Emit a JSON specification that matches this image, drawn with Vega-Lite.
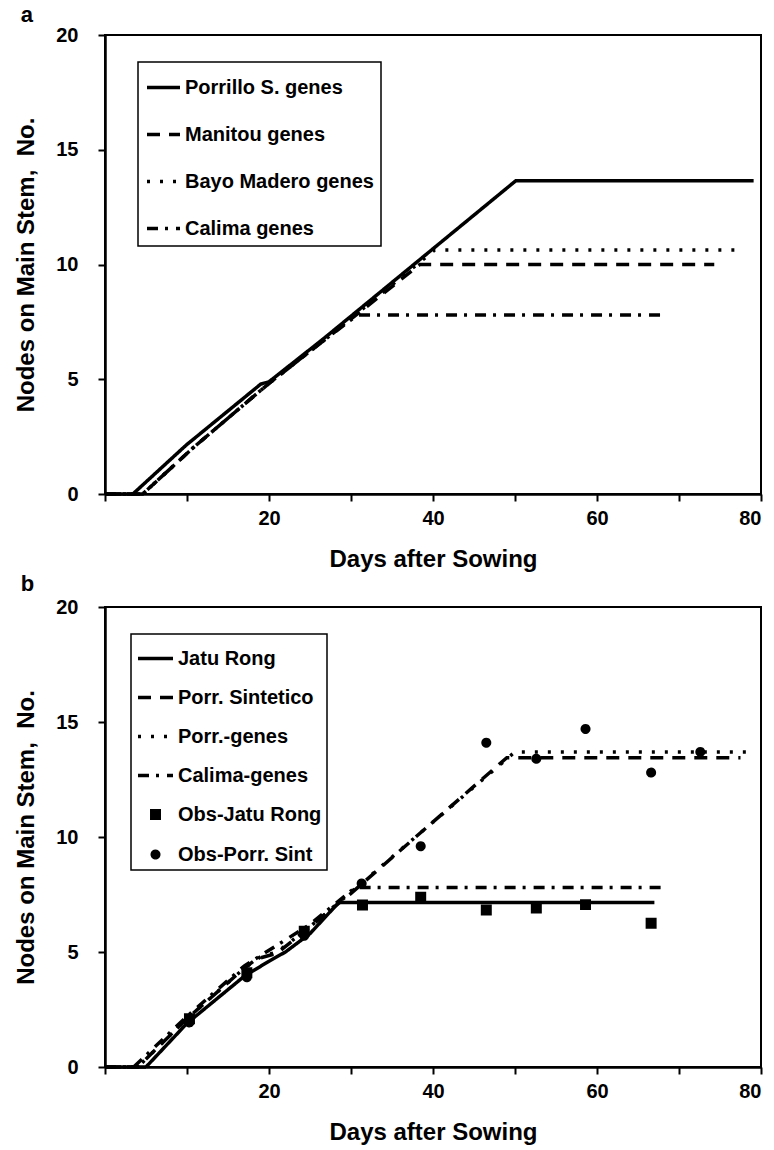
{
  "$schema": "https://vega.github.io/schema/vega-lite/v6.json",
  "background": "white",
  "padding": {"left": 13, "top": 3, "right": 0, "bottom": 0},
  "spacing": 0,
  "resolve": {
    "scale": {"strokeDash": "independent", "shape": "independent"},
    "legend": {"strokeDash": "independent", "shape": "independent"}
  },
  "config": {
    "font": "Liberation Sans",
    "view": {"stroke": "black", "strokeWidth": 2},
    "axis": {
      "grid": false,
      "domainColor": "black", "domainWidth": 2.5,
      "tickColor": "black", "tickWidth": 2, "tickSize": 7,
      "labelFont": "Liberation Sans", "labelFontWeight": "bold", "labelFontSize": 20, "labelColor": "black",
      "titleFont": "Liberation Sans", "titleFontWeight": "bold", "titleFontSize": 24, "titleColor": "black"
    },
    "axisX": {"labelPadding": 7, "titlePadding": 19},
    "axisY": {"labelPadding": 20, "titlePadding": 17},
    "legend": {
      "labelFont": "Liberation Sans", "labelFontWeight": "bold", "labelFontSize": 20, "labelColor": "black", "labelLimit": 400,
      "strokeColor": "black", "symbolStrokeColor": "black", "symbolStrokeWidth": 3.5, "symbolType": "stroke",
      "labelOffset": 3
    },
    "title": {"font": "Liberation Sans", "fontWeight": "bold", "fontSize": 22, "color": "black", "anchor": "start", "frame": "bounds"}
  },
  "datasets": {
    "panelA": [
      {"curve": "Porrillo S. genes", "day": 0, "nodes": 0},
      {"curve": "Porrillo S. genes", "day": 3.4, "nodes": 0},
      {"curve": "Porrillo S. genes", "day": 9.9, "nodes": 2.13},
      {"curve": "Porrillo S. genes", "day": 19.0, "nodes": 4.79},
      {"curve": "Porrillo S. genes", "day": 20.0, "nodes": 4.89},
      {"curve": "Porrillo S. genes", "day": 26.7, "nodes": 6.78},
      {"curve": "Porrillo S. genes", "day": 50.1, "nodes": 13.65},
      {"curve": "Porrillo S. genes", "day": 79.1, "nodes": 13.65},
      {"curve": "Manitou genes", "day": 0, "nodes": 0},
      {"curve": "Manitou genes", "day": 4.6, "nodes": 0},
      {"curve": "Manitou genes", "day": 10.7, "nodes": 2.0},
      {"curve": "Manitou genes", "day": 18.8, "nodes": 4.46},
      {"curve": "Manitou genes", "day": 20.0, "nodes": 4.82},
      {"curve": "Manitou genes", "day": 26.9, "nodes": 6.75},
      {"curve": "Manitou genes", "day": 38.4, "nodes": 10.0},
      {"curve": "Manitou genes", "day": 74.3, "nodes": 10.0},
      {"curve": "Bayo Madero genes", "day": 0, "nodes": 0},
      {"curve": "Bayo Madero genes", "day": 4.6, "nodes": 0},
      {"curve": "Bayo Madero genes", "day": 10.7, "nodes": 2.0},
      {"curve": "Bayo Madero genes", "day": 18.8, "nodes": 4.46},
      {"curve": "Bayo Madero genes", "day": 20.0, "nodes": 4.82},
      {"curve": "Bayo Madero genes", "day": 26.9, "nodes": 6.75},
      {"curve": "Bayo Madero genes", "day": 40.2, "nodes": 10.63},
      {"curve": "Bayo Madero genes", "day": 77.3, "nodes": 10.63},
      {"curve": "Calima genes", "day": 0, "nodes": 0},
      {"curve": "Calima genes", "day": 4.6, "nodes": 0},
      {"curve": "Calima genes", "day": 10.7, "nodes": 2.0},
      {"curve": "Calima genes", "day": 18.8, "nodes": 4.46},
      {"curve": "Calima genes", "day": 20.0, "nodes": 4.82},
      {"curve": "Calima genes", "day": 26.9, "nodes": 6.75},
      {"curve": "Calima genes", "day": 30.8, "nodes": 7.8},
      {"curve": "Calima genes", "day": 68.2, "nodes": 7.8}
    ],
    "panelBLines": [
      {"series": "Jatu Rong", "day": 0, "nodes": 0},
      {"series": "Jatu Rong", "day": 5.0, "nodes": 0},
      {"series": "Jatu Rong", "day": 10.0, "nodes": 1.9},
      {"series": "Jatu Rong", "day": 17.0, "nodes": 3.95},
      {"series": "Jatu Rong", "day": 20.0, "nodes": 4.6},
      {"series": "Jatu Rong", "day": 22.0, "nodes": 5.0},
      {"series": "Jatu Rong", "day": 25.0, "nodes": 5.8},
      {"series": "Jatu Rong", "day": 28.5, "nodes": 7.15},
      {"series": "Jatu Rong", "day": 67.0, "nodes": 7.15},
      {"series": "Porr. Sintetico", "day": 0, "nodes": 0},
      {"series": "Porr. Sintetico", "day": 4.0, "nodes": 0},
      {"series": "Porr. Sintetico", "day": 10.0, "nodes": 2.1},
      {"series": "Porr. Sintetico", "day": 17.0, "nodes": 4.3},
      {"series": "Porr. Sintetico", "day": 18.5, "nodes": 4.7},
      {"series": "Porr. Sintetico", "day": 21.0, "nodes": 4.95},
      {"series": "Porr. Sintetico", "day": 25.0, "nodes": 6.1},
      {"series": "Porr. Sintetico", "day": 30.0, "nodes": 7.55},
      {"series": "Porr. Sintetico", "day": 49.0, "nodes": 13.45},
      {"series": "Porr. Sintetico", "day": 77.5, "nodes": 13.45},
      {"series": "Porr.-genes", "day": 0, "nodes": 0},
      {"series": "Porr.-genes", "day": 4.0, "nodes": 0},
      {"series": "Porr.-genes", "day": 10.0, "nodes": 2.1},
      {"series": "Porr.-genes", "day": 17.0, "nodes": 4.3},
      {"series": "Porr.-genes", "day": 19.0, "nodes": 4.8},
      {"series": "Porr.-genes", "day": 21.0, "nodes": 5.0},
      {"series": "Porr.-genes", "day": 25.0, "nodes": 6.1},
      {"series": "Porr.-genes", "day": 30.0, "nodes": 7.6},
      {"series": "Porr.-genes", "day": 50.0, "nodes": 13.7},
      {"series": "Porr.-genes", "day": 79.0, "nodes": 13.7},
      {"series": "Calima-genes", "day": 0, "nodes": 0},
      {"series": "Calima-genes", "day": 3.5, "nodes": 0},
      {"series": "Calima-genes", "day": 10.0, "nodes": 2.2},
      {"series": "Calima-genes", "day": 17.0, "nodes": 4.4},
      {"series": "Calima-genes", "day": 19.0, "nodes": 4.85},
      {"series": "Calima-genes", "day": 25.0, "nodes": 6.2},
      {"series": "Calima-genes", "day": 30.5, "nodes": 7.8},
      {"series": "Calima-genes", "day": 68.0, "nodes": 7.8}
    ],
    "panelBObs": [
      {"series": "Obs-Jatu Rong", "day": 10.3, "nodes": 2.1},
      {"series": "Obs-Jatu Rong", "day": 17.3, "nodes": 4.1},
      {"series": "Obs-Jatu Rong", "day": 24.3, "nodes": 5.9},
      {"series": "Obs-Jatu Rong", "day": 31.4, "nodes": 7.04},
      {"series": "Obs-Jatu Rong", "day": 38.5, "nodes": 7.38},
      {"series": "Obs-Jatu Rong", "day": 46.5, "nodes": 6.83},
      {"series": "Obs-Jatu Rong", "day": 52.6, "nodes": 6.91},
      {"series": "Obs-Jatu Rong", "day": 58.6, "nodes": 7.06},
      {"series": "Obs-Jatu Rong", "day": 66.6, "nodes": 6.25},
      {"series": "Obs-Porr. Sint", "day": 10.3, "nodes": 1.94},
      {"series": "Obs-Porr. Sint", "day": 17.3, "nodes": 3.9},
      {"series": "Obs-Porr. Sint", "day": 24.3, "nodes": 5.71},
      {"series": "Obs-Porr. Sint", "day": 31.3, "nodes": 7.98},
      {"series": "Obs-Porr. Sint", "day": 38.5, "nodes": 9.6},
      {"series": "Obs-Porr. Sint", "day": 46.5, "nodes": 14.1},
      {"series": "Obs-Porr. Sint", "day": 52.6, "nodes": 13.4},
      {"series": "Obs-Porr. Sint", "day": 58.6, "nodes": 14.7},
      {"series": "Obs-Porr. Sint", "day": 66.6, "nodes": 12.8},
      {"series": "Obs-Porr. Sint", "day": 72.6, "nodes": 13.7}
    ]
  },
  "vconcat": [
    {
      "width": 656,
      "height": 459,
      "title": {"text": "a", "offset": -2, "dx": 6},
      "data": {"name": "panelA"},
      "mark": {"type": "line", "color": "black", "strokeWidth": 3.5},
      "encoding": {
        "x": {"field": "day", "type": "quantitative", "scale": {"domain": [0, 80], "nice": false},
          "axis": {"title": "Days after Sowing", "values": [0, 10, 20, 30, 40, 50, 60, 70, 80],
            "labelExpr": "datum.value > 0 && datum.value % 20 == 0 ? datum.label : ''"}},
        "y": {"field": "nodes", "type": "quantitative", "scale": {"domain": [0, 20], "nice": false},
          "axis": {"title": "Nodes on Main Stem, \u00a0No.", "values": [0, 5, 10, 15, 20]}},
        "strokeDash": {"field": "curve", "type": "nominal",
          "scale": {"domain": ["Porrillo S. genes", "Manitou genes", "Bayo Madero genes", "Calima genes"],
            "range": [[1, 0], [13, 9], [3, 10], [11, 7, 3, 8]]},
          "legend": {"title": null, "orient": "none", "legendX": 33, "legendY": 27, "padding": 7,
            "symbolSize": 1089, "rowPadding": 18,
            "labelExpr": "datum.label + '\u00a0\u00a0\u00a0\u00a0\u00a0\u00a0'",
            "encode": {"legend": {"update": {"strokeWidth": {"value": 1.5}}}}}}
      }
    },
    {
      "width": 656,
      "height": 460,
      "title": {"text": "b", "offset": 1, "dx": 6},
      "layer": [
        {
          "data": {"name": "panelBLines"},
          "mark": {"type": "line", "color": "black", "strokeWidth": 3.5},
          "encoding": {
            "x": {"field": "day", "type": "quantitative", "scale": {"domain": [0, 80], "nice": false},
              "axis": {"title": "Days after Sowing", "values": [0, 10, 20, 30, 40, 50, 60, 70, 80],
                "labelExpr": "datum.value > 0 && datum.value % 20 == 0 ? datum.label : ''"}},
            "y": {"field": "nodes", "type": "quantitative", "scale": {"domain": [0, 20], "nice": false},
              "axis": {"title": "Nodes on Main Stem, \u00a0No.", "values": [0, 5, 10, 15, 20]}},
            "strokeDash": {"field": "series", "type": "nominal",
              "scale": {"domain": ["Jatu Rong", "Porr. Sintetico", "Porr.-genes", "Calima-genes", "Obs-Jatu Rong", "Obs-Porr. Sint"],
                "range": [[1, 0], [13, 9], [3, 10], [11, 7, 3, 8], [1, 0], [1, 0]]},
              "legend": {"title": null, "orient": "none", "legendX": 26, "legendY": 27, "padding": 5,
                "rowPadding": 9, "symbolSize": 1225, "symbolFillColor": "black",
                "labelExpr": "datum.label + '\u00a0\u00a0\u00a0\u00a0'",
                "encode": {"legend": {"update": {"strokeWidth": {"value": 1.5}}}}}}
          }
        },
        {
          "data": {"name": "panelBObs"},
          "mark": {"type": "point", "filled": true, "color": "black", "stroke": "black", "strokeWidth": 3.5, "opacity": 1, "size": 1225},
          "encoding": {
            "x": {"field": "day", "type": "quantitative"},
            "y": {"field": "nodes", "type": "quantitative"},
            "strokeDash": {"field": "series", "type": "nominal",
              "scale": {"domain": ["Jatu Rong", "Porr. Sintetico", "Porr.-genes", "Calima-genes", "Obs-Jatu Rong", "Obs-Porr. Sint"],
                "range": [[1, 0], [13, 9], [3, 10], [11, 7, 3, 8], [1, 0], [1, 0]]},
              "legend": {"title": null, "orient": "none", "legendX": 26, "legendY": 27, "padding": 5,
                "rowPadding": 9, "symbolSize": 1225, "symbolFillColor": "black",
                "labelExpr": "datum.label + '\u00a0\u00a0\u00a0\u00a0'",
                "encode": {"legend": {"update": {"strokeWidth": {"value": 1.5}}}}}},
            "shape": {"field": "series", "type": "nominal",
              "scale": {"domain": ["Jatu Rong", "Porr. Sintetico", "Porr.-genes", "Calima-genes", "Obs-Jatu Rong", "Obs-Porr. Sint"],
                "range": ["M-1,0H1", "M-1,0H1", "M-1,0H1", "M-1,0H1",
                  "M-0.214,-0.214H0.214V0.214H-0.214ZM-0.1,-0.1H0.1V0.1H-0.1Z",
                  "M-0.186,0A0.186,0.186 0 1,0 0.186,0A0.186,0.186 0 1,0 -0.186,0ZM-0.08,0A0.08,0.08 0 1,0 0.08,0A0.08,0.08 0 1,0 -0.08,0Z"]},
              "legend": {"title": null, "orient": "none", "legendX": 26, "legendY": 27, "padding": 5,
                "rowPadding": 9, "symbolSize": 1225, "symbolFillColor": "black",
                "labelExpr": "datum.label + '\u00a0\u00a0\u00a0\u00a0'",
                "encode": {"legend": {"update": {"strokeWidth": {"value": 1.5}}}}}}
          }
        }
      ]
    }
  ]
}
